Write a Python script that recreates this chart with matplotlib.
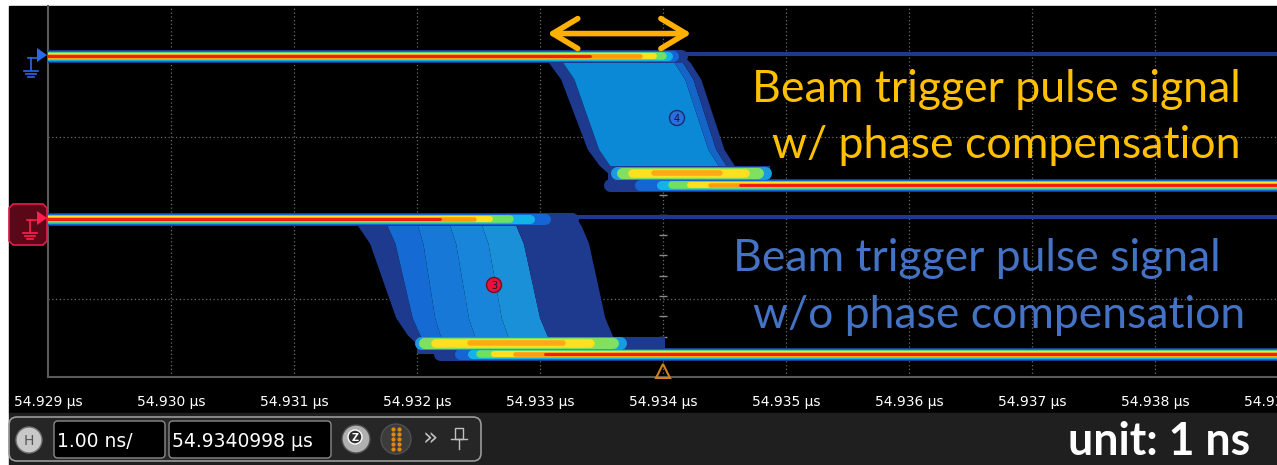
import numpy as np
import matplotlib.pyplot as plt
from matplotlib.patches import Rectangle, FancyBboxPatch, Circle, Polygon

# ---- values (time in ns, level in divisions) ----
tick_ns = [54929, 54930, 54931, 54932, 54933, 54934, 54935, 54936, 54937, 54938, 54939]
grid_div = [0.48, 1.48]
t_start, t_end = 54929.0, 54939.0

# normalised shape of one falling edge: fraction of swing vs fraction of fall time
edge_swing = [0.0, 0.06, 0.2, 0.5, 0.8, 0.94, 1.0]
edge_time = [0.0, 0.12, 0.3, 0.5, 0.7, 0.88, 1.0]

# channel 4: beam trigger pulse with phase compensation
ch4_high, ch4_step, ch4_low = 1.98, 1.26, 1.185
ch4_edge_top = [54933.01, 54933.13, 54934.04, 54934.11, 54934.17]
ch4_edge_bot = [54933.55, 54933.63, 54934.51, 54934.57, 54934.64]
ch4_high_end = [54934.15, 54934.08, 54934.04, 54934.00, 54933.93, 54933.81, 54933.41]
ch4_step_on = [54933.63, 54933.67, 54933.75, 54933.93]
ch4_step_off = [54934.83, 54934.77, 54934.67, 54934.46]
ch4_low_on = [54933.57, 54933.81, 54933.98, 54934.07, 54934.22, 54934.38, 54934.63]
ch4_shadow = [54933.55, 54934.87, 1.185, 1.30]

# channel 3: beam trigger pulse without phase compensation
ch3_high, ch3_step, ch3_low = 0.975, 0.21, 0.145
ch3_edge_top = [54931.46, 54931.72, 54931.98, 54932.24, 54932.50, 54932.77, 54933.30]
ch3_edge_bot = [54931.99, 54932.07, 54932.22, 54932.50, 54932.77, 54933.10, 54933.63]
ch3_high_end = [54933.26, 54933.04, 54932.92, 54932.76, 54932.59, 54932.46, 54932.19]
ch3_step_on = [54932.03, 54932.06, 54932.15, 54932.43]
ch3_step_off = [54933.65, 54933.59, 54933.41, 54933.19]
ch3_low_on = [54932.19, 54932.35, 54932.45, 54932.51, 54932.63, 54932.80, 54933.04]
ch3_shadow = [54932.00, 54934.02, 0.145, 0.25]

arrow_ns = [54933.06, 54934.23]

# ---- styles ----
navy = '#1e3a8f'
layer_colors = ['#1e3a8f', '#1565d4', '#12b4e8', '#70e060', '#ffe020', '#ff9a10', '#f02010']
layer_px = [13, 11, 9, 7.5, 6, 4.5, 3]
step_colors = ['#1a9be0', '#80e060', '#ffe020', '#ffa818']
step_px = [13, 11, 8.5, 5.5]
ch4_fill = [navy, '#0b88d6', '#1565c8', navy]
ch3_fill = [navy, '#156ad4', '#1878d8', '#1985da', '#1990d8', navy]
gold = '#FFC000'
blue_txt = '#4472C4'
PT = 0.72  # points per pixel at 100 dpi

W, H = 1277, 465
fig = plt.figure(figsize=(W / 100, H / 100), dpi=100)
fig.patch.set_facecolor('white')

ax_bg = fig.add_axes([0, 0, 1, 1])
ax_bg.set_xlim(0, W)
ax_bg.set_ylim(H, 0)
ax_bg.axis('off')
ax_bg.add_patch(Rectangle((9, 6), W - 9, 407, color='black'))
ax_bg.add_patch(Rectangle((9, 413), W - 9, 52, color='#1f1f1f'))
ax_bg.set_zorder(0)

ax = fig.add_axes([48 / W, 88 / H, 1230 / W, 371 / H])
ax.set_zorder(1)
ax.set_facecolor('black')
ax.set_xlim(t_start, t_end)
ax.set_ylim(0, 371 / 162)
ax.set_xticks(tick_ns)
ax.set_xticklabels([f'{v / 1000:.3f} μs' for v in tick_ns], color='white', fontsize=10)
ax.set_yticks([])
ax.tick_params(axis='x', length=0, pad=13)
for s in ['top', 'right']:
    ax.spines[s].set_visible(False)
ax.spines['left'].set_color('#5a5a5a')
ax.spines['bottom'].set_color('#5a5a5a')
ax.spines['left'].set_linewidth(1.5)
ax.spines['bottom'].set_linewidth(1.5)

# graticule
for t in tick_ns[1:-1]:
    ax.axvline(t, color='#6a6a6a', lw=0.9, ls=(0, (1, 2)), zorder=0.5)
for y in grid_div:
    ax.axhline(y, color='#6a6a6a', lw=0.9, ls=(0, (1, 2)), zorder=0.5)
ax.plot([tick_ns[5]] * 17, np.arange(1, 18) / 8, ls='none', marker='_', ms=6,
        color='#8a8a8a', zorder=0.6)


def edge_curve(t_top, t_bot, y_hi, y_lo):
    t = [t_top + (t_bot - t_top) * g for g in edge_time]
    y = [y_hi + (y_lo - y_hi) * f for f in edge_swing]
    return t, y


def draw_edge(tops, bots, y_hi, y_lo, colors):
    curves = [edge_curve(a, b, y_hi, y_lo) for a, b in zip(tops, bots)]
    for (t1, y1), (t2, y2), c in zip(curves[:-1], curves[1:], colors):
        ax.fill(t1 + t2[::-1], y1 + y2[::-1], color=c, lw=0, zorder=2)


def layered(starts, ends, y, colors, widths):
    for c, w, a, b in zip(colors, widths, starts, ends):
        ax.plot([a, b], [y, y], color=c, lw=w * PT, solid_capstyle='round', zorder=3)


def trace(high, step, low, tops, bots, fills, high_end, step_on, step_off, low_on, shadow):
    draw_edge(tops, bots, high, step, fills)
    ax.add_patch(Rectangle((shadow[0], shadow[2]), shadow[1] - shadow[0], shadow[3] - shadow[2],
                           color=navy, lw=0, zorder=2))
    # rare samples that stay high
    ax.plot([high_end[0], t_end], [high + 0.015, high + 0.015], color=navy, lw=4 * PT, zorder=2.5)
    layered([t_start] * 7, high_end, high, layer_colors, layer_px)
    layered(low_on, [t_end] * 7, low, layer_colors, layer_px)
    layered(step_on, step_off, step, step_colors, step_px)


trace(ch4_high, ch4_step, ch4_low, ch4_edge_top, ch4_edge_bot, ch4_fill,
      ch4_high_end, ch4_step_on, ch4_step_off, ch4_low_on, ch4_shadow)
trace(ch3_high, ch3_step, ch3_low, ch3_edge_top, ch3_edge_bot, ch3_fill,
      ch3_high_end, ch3_step_on, ch3_step_off, ch3_low_on, ch3_shadow)

# jitter arrow
ax.annotate('', xy=(arrow_ns[0], 2.12), xytext=(arrow_ns[1], 2.12),
            arrowprops=dict(arrowstyle='<->, head_length=1.0, head_width=0.6',
                            mutation_scale=18, lw=4, color='#FFB000',
                            shrinkA=0, shrinkB=0), zorder=5)

# trigger position marker
ax.plot([tick_ns[5]], [0.04], marker='^', ms=10, mfc='none', mec='#d08020', mew=1.5,
        clip_on=False, zorder=5)

# ---- overlay in pixel coordinates ----
ax_px = fig.add_axes([0, 0, 1, 1])
ax_px.set_xlim(0, W)
ax_px.set_ylim(H, 0)
ax_px.axis('off')
ax_px.set_zorder(2)

# channel markers
ax_px.add_patch(Polygon([[13, 204], [43, 204], [47, 208], [47, 241], [43, 245],
                         [13, 245], [9, 241], [9, 208]], closed=True,
                        fc='#5a0818', ec='#e0204a', lw=1.2))
ax_px.add_patch(Polygon([[37, 211], [47, 218], [37, 225]], fc='#ff2050', ec='none'))
ax_px.add_patch(Polygon([[37, 48], [47, 55], [37, 62]], fc='#2a6ae8', ec='none'))
for x0, y0, col in [(30, 220, '#ff2050'), (31, 58, '#2a6ae8')]:
    ax_px.plot([x0, x0], [y0, y0 + 12], color=col, lw=1.2)
    ax_px.plot([x0 - 3, x0 + 6], [y0, y0], color=col, lw=1.2)
    for k, hw in enumerate([7, 5, 3]):
        ax_px.plot([x0 - hw, x0 + hw], [y0 + 13 + 3 * k] * 2, color=col, lw=1.2)

# waveform ids
for cx, cy, fc, ec, lab in [(677, 118, '#2a6ee0', '#12306e', '4'), (494, 285, '#e8103c', '#7a0a1e', '3')]:
    ax_px.add_patch(Circle((cx, cy), 7.5, fc=fc, ec=ec, lw=1))
    ax_px.text(cx, cy + 0.5, lab, ha='center', va='center', fontsize=7, color='#101830')

# trace captions
fits = []
for txt, x, y, w, x2, y2, line2, col in [
        ('Beam trigger pulse signal', 752, 102, 488, 1240, 158, 'w/ phase compensation', gold),
        ('Beam trigger pulse signal', 733, 271, 487, 1245, 328, 'w/o phase compensation', blue_txt)]:
    t1 = ax_px.text(x, y, txt, ha='left', va='baseline', fontsize=30, color=col, family='Lato')
    t2 = ax_px.text(x2, y2, line2, ha='right', va='baseline', fontsize=30, color=col, family='Lato')
    fits.append((t1, w, [t1, t2]))

# control bar
ax_px.add_patch(FancyBboxPatch((9, 417), 472, 44, boxstyle='round,pad=0,rounding_size=8',
                               fc='#262626', ec='#9a9a9a', lw=1.2))
ax_px.add_patch(Circle((29, 440), 13, fc='#c8c8c8', ec='#707070', lw=1))
ax_px.text(29, 441, 'H', ha='center', va='center', fontsize=10, color='#555555')
ax_px.add_patch(FancyBboxPatch((54, 421), 111, 37, boxstyle='round,pad=0,rounding_size=4',
                               fc='black', ec='#8a8a8a', lw=1))
ax_px.text(57, 441, '1.00 ns/', ha='left', va='center', fontsize=13.5, color='white')
ax_px.add_patch(FancyBboxPatch((169, 421), 162, 37, boxstyle='round,pad=0,rounding_size=4',
                               fc='black', ec='#8a8a8a', lw=1))
ax_px.text(172, 441, '54.9340998 μs', ha='left', va='center', fontsize=13.5, color='white')
ax_px.add_patch(Circle((356, 439), 14, fc='#b0b0b0', ec='#505050', lw=1))
ax_px.add_patch(Circle((355, 437), 7, fc='#303030', ec='white', lw=1))
ax_px.text(355, 437.5, 'Z', ha='center', va='center', fontsize=7, color='white', weight='bold')
ax_px.add_patch(Circle((396, 439), 15, fc='#3c3c3c', ec='#505050', lw=1))
ax_px.plot([393] * 5 + [399] * 5, [429, 434, 439, 444, 449] * 2, ls='none', marker='o', ms=2,
           color='#e08a10')
ax_px.text(430, 439, '»', ha='center', va='center', fontsize=18, color='#c0c0c0')
ax_px.add_patch(Rectangle((455, 428), 8, 11, fc='none', ec='#c0c0c0', lw=1))
ax_px.plot([451, 467], [439, 439], color='#c0c0c0', lw=1)
ax_px.plot([459, 459], [439, 449], color='#c0c0c0', lw=1)

unit = ax_px.text(1250, 455, 'unit: 1 ns', ha='right', va='baseline', fontsize=28,
                  color='white', weight='bold', family='Lato')
fits.append((unit, 182, [unit]))

# scale caption fonts to the widths measured on the screenshot
fig.canvas.draw()
r = fig.canvas.get_renderer()
for ref, w, group in fits:
    size = ref.get_fontsize() * w / ref.get_window_extent(r).width
    for t in group:
        t.set_fontsize(size)

fig.savefig('out.png', dpi=100)
